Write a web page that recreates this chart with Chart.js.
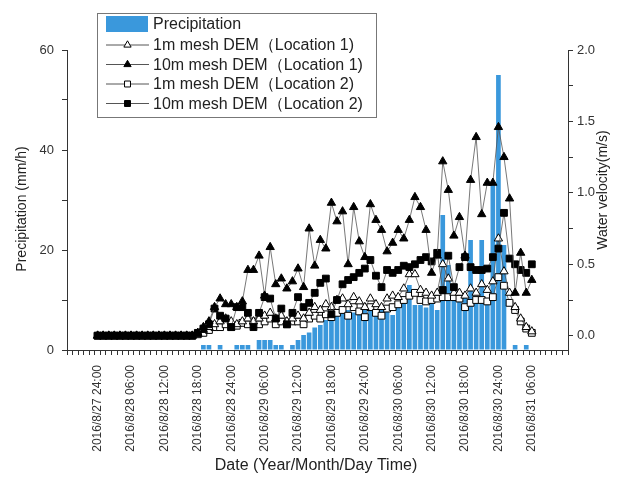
<!DOCTYPE html>
<html>
<head>
<meta charset="utf-8">
<script src="https://cdn.jsdelivr.net/npm/chart.js@4.4.1/dist/chart.umd.min.js"></script>
<style>
  html, body { margin: 0; padding: 0; background: #fff; }
  #wrap { width: 626px; height: 477px; }
</style>
</head>
<body>
<div id="wrap"><canvas id="velocityChart" width="626" height="477"></canvas></div>
<script>
// hourly values, hour 0 = 2016/8/27 24:00, hour 78 = 2016/8/31 06:00
const tickLabels = [
    '2016/8/27 24:00', '2016/8/28 06:00', '2016/8/28 12:00', '2016/8/28 18:00',
    '2016/8/28 24:00', '2016/8/29 06:00', '2016/8/29 12:00', '2016/8/29 18:00',
    '2016/8/29 24:00', '2016/8/30 06:00', '2016/8/30 12:00', '2016/8/30 18:00',
    '2016/8/30 24:00', '2016/8/31 06:00'
];

const precipitation = [
    0, 0, 0, 0, 0, 0,
    0, 0, 0, 0, 0, 0,
    0, 0, 0, 0, 0, 0,
    0, 1, 1, 0, 1, 0,
    0, 1, 1, 1, 0, 2,
    2, 2, 1, 1, 0, 1,
    2, 3, 3.5, 4.5, 5, 6,
    7, 8, 8, 8, 7.5, 8,
    8, 8, 7, 8, 8.5, 7,
    9, 10, 13, 9, 9, 8.5,
    10, 8, 27, 17, 12, 10,
    11, 22, 10, 22, 10, 33,
    55, 21, 0, 1, 0, 1,
    0
];

const mesh1Loc1 = [
    0, 0, 0, 0, 0, 0,
    0, 0, 0, 0, 0, 0,
    0, 0, 0, 0, 0, 0,
    0.01, 0.04, 0.06, 0.08, 0.1, 0.12,
    0.1, 0.08, 0.1, 0.12, 0.1, 0.12,
    0.14, 0.16, 0.12, 0.14, 0.1, 0.12,
    0.14, 0.12, 0.16, 0.2, 0.18, 0.22,
    0.2, 0.25, 0.26, 0.22, 0.27, 0.24,
    0.2, 0.26, 0.22, 0.2, 0.26, 0.28,
    0.27, 0.33, 0.43, 0.43, 0.32, 0.3,
    0.28, 0.3, 0.5, 0.4, 0.3, 0.3,
    0.28, 0.33, 0.3, 0.36, 0.32, 0.38,
    0.68, 0.45, 0.3, 0.2, 0.12, 0.06,
    0.03
];

const mesh10Loc1 = [
    0, 0, 0, 0, 0, 0,
    0, 0, 0, 0, 0, 0,
    0, 0, 0, 0, 0, 0,
    0.02, 0.06, 0.1, 0.2, 0.26, 0.22,
    0.22, 0.2, 0.24, 0.46, 0.46, 0.56,
    0.28, 0.62, 0.36, 0.4, 0.33, 0.38,
    0.47, 0.34, 0.75, 0.49, 0.67, 0.61,
    0.93, 0.8, 0.87, 0.5, 0.9, 0.66,
    0.55, 0.92, 0.81, 0.74, 0.59, 0.65,
    0.74, 0.68, 0.81, 0.97, 0.9, 0.74,
    0.44, 0.56, 1.22, 1.02, 0.7, 0.83,
    0.56, 1.09, 1.39, 0.85, 1.07, 1.07,
    1.46, 1.25, 0.96, 0.3, 0.58, 0.3,
    0.39
];

const mesh1Loc2 = [
    0, 0, 0, 0, 0, 0,
    0, 0, 0, 0, 0, 0,
    0, 0, 0, 0, 0, 0,
    0.01, 0.02, 0.04, 0.06, 0.06, 0.08,
    0.06, 0.07, 0.09, 0.08, 0.1, 0.08,
    0.1, 0.12, 0.08, 0.1, 0.08, 0.1,
    0.1, 0.08, 0.12, 0.14, 0.12, 0.15,
    0.13, 0.16, 0.18, 0.14, 0.2, 0.17,
    0.13, 0.2, 0.16, 0.14, 0.19, 0.2,
    0.22, 0.25, 0.28, 0.3, 0.25, 0.24,
    0.25, 0.26, 0.27, 0.27, 0.27, 0.26,
    0.2, 0.23, 0.25, 0.25, 0.24, 0.27,
    0.41, 0.35, 0.23, 0.18, 0.1, 0.05,
    0.02
];

const mesh10Loc2 = [
    0, 0, 0, 0, 0, 0,
    0, 0, 0, 0, 0, 0,
    0, 0, 0, 0, 0, 0,
    0.02, 0.05, 0.08, 0.19, 0.14, 0.12,
    0.06, 0.2, 0.2, 0.16, 0.06, 0.16,
    0.27, 0.26, 0.12, 0.19, 0.08, 0.16,
    0.27, 0.2, 0.23, 0.3, 0.37, 0.4,
    0.15, 0.25, 0.36, 0.39, 0.41, 0.44,
    0.47, 0.53, 0.42, 0.34, 0.46, 0.44,
    0.46, 0.49, 0.48, 0.5, 0.53, 0.55,
    0.52, 0.58, 0.32, 0.56, 0.34, 0.48,
    0.55, 0.48, 0.46, 0.46, 0.47, 0.55,
    0.61, 0.86, 0.54, 0.5, 0.46, 0.44,
    0.5
];

const hours = precipitation.map((_, i) => i);

// small hourly tick marks run past both ends of the data
const axisHours = [];
for (let h = -5; h <= 84; h++) axisHours.push(h);

const FONT = '"Liberation Sans", Arial, sans-serif';
const INK = '#222';
const BAR_BLUE = '#3a98dc';

function lineSeries(label, data, style, fill, order) {
    return {
        type: 'line',
        label: label,
        data: data,
        yAxisID: 'yV',
        order: order,
        borderColor: '#555',
        borderWidth: 0.8,
        pointStyle: style,
        pointRadius: 4.8,
        pointBorderWidth: 1,
        pointBorderColor: '#000',
        pointBackgroundColor: fill,
        tension: 0
    };
}

function drawMarker(ctx, style, x, y, r, fill) {
    ctx.beginPath();
    if (style === 'triangle') {
        for (let k = 0; k < 3; k++) {
            const a = k * 2 * Math.PI / 3;
            const px = x + Math.sin(a) * r, py = y - Math.cos(a) * r;
            k === 0 ? ctx.moveTo(px, py) : ctx.lineTo(px, py);
        }
        ctx.closePath();
    } else {
        const s = r * Math.SQRT1_2;
        ctx.rect(x - s, y - s, 2 * s, 2 * s);
    }
    ctx.fillStyle = fill;
    ctx.fill();
    ctx.strokeStyle = '#000';
    ctx.lineWidth = 1;
    ctx.stroke();
}

// boxed legend plus the three axis titles
const annotations = {
    id: 'annotations',
    afterDraw(chart) {
        const ctx = chart.ctx;
        ctx.save();

        ctx.strokeStyle = '#777';
        ctx.lineWidth = 1;
        ctx.strokeRect(97.5, 13.5, 279, 104);

        ctx.font = '16px ' + FONT;
        ctx.textBaseline = 'middle';
        ctx.textAlign = 'left';
        const rowY = [24, 45, 64.5, 84, 103.5];
        chart.data.datasets.forEach((ds, i) => {
            const y = rowY[i];
            if (ds.type === 'bar' || !ds.type) {
                ctx.fillStyle = BAR_BLUE;
                ctx.fillRect(106, 16, 42, 16);
            } else {
                ctx.strokeStyle = '#555';
                ctx.lineWidth = 1;
                ctx.beginPath();
                ctx.moveTo(106, y);
                ctx.lineTo(149, y);
                ctx.stroke();
                drawMarker(ctx, ds.pointStyle, 127.5, y, 4.2, ds.pointBackgroundColor);
            }
            ctx.fillStyle = INK;
            ctx.fillText(ds.label, 153, y + 1);
        });

        ctx.fillStyle = INK;
        ctx.textAlign = 'center';
        ctx.font = '16px ' + FONT;
        ctx.fillText('Date (Year/Month/Day Time)', 316, 466);

        ctx.font = '14px ' + FONT;
        ctx.translate(22, 209);
        ctx.rotate(-Math.PI / 2);
        ctx.fillText('Precipitation (mm/h)', 0, 0);
        ctx.setTransform(1, 0, 0, 1, 0, 0);
        ctx.translate(603, 190);
        ctx.rotate(-Math.PI / 2);
        ctx.fillText('Water velocity(m/s)', 0, 0);

        ctx.restore();
    }
};

new Chart(document.getElementById('velocityChart'), {
    type: 'bar',
    data: {
        labels: hours,
        datasets: [
            {
                type: 'bar',
                label: 'Precipitation',
                data: precipitation,
                yAxisID: 'yP',
                order: 5,
                backgroundColor: BAR_BLUE,
                borderWidth: 0,
                categoryPercentage: 1,
                barPercentage: 0.84
            },
            lineSeries('1m mesh DEM（Location 1)', mesh1Loc1, 'triangle', '#fff', 3),
            lineSeries('10m mesh DEM（Location 1)', mesh10Loc1, 'triangle', '#000', 1),
            lineSeries('1m mesh DEM（Location 2)', mesh1Loc2, 'rect', '#fff', 4),
            lineSeries('10m mesh DEM（Location 2)', mesh10Loc2, 'rect', '#000', 2)
        ]
    },
    options: {
        responsive: false,
        animation: false,
        events: [],
        layout: { padding: { top: 50, left: 0, right: 0, bottom: 0 } },
        scales: {
            x: {
                type: 'linear',
                min: -5.5,
                max: 84.5,
                offset: false,
                afterBuildTicks: s => { s.ticks = axisHours.map(v => ({ value: v })); },
                afterFit: s => { s.height = 127; },
                ticks: {
                    autoSkip: false,
                    minRotation: 90,
                    maxRotation: 90,
                    padding: 10,
                    color: '#333',
                    font: { size: 12, family: FONT },
                    callback: v => (v >= 0 && v <= 78 && v % 6 === 0) ? tickLabels[v / 6] : ''
                },
                grid: { drawOnChartArea: false, tickLength: 5, color: '#333' },
                border: { color: '#333', width: 1 }
            },
            yP: {
                position: 'left',
                min: 0,
                max: 60,
                afterBuildTicks: s => { s.ticks = [0, 10, 20, 30, 40, 50, 60].map(v => ({ value: v })); },
                afterFit: s => { s.width = 67; },
                ticks: {
                    padding: 8,
                    color: '#333',
                    font: { size: 13, family: FONT },
                    callback: v => v % 20 === 0 ? v : ''
                },
                grid: { drawOnChartArea: false, tickLength: 5, color: '#333' },
                border: { color: '#333', width: 1 }
            },
            yV: {
                position: 'right',
                min: -0.1,
                max: 2.0,
                afterBuildTicks: s => { s.ticks = [0, 0.25, 0.5, 0.75, 1, 1.25, 1.5, 1.75, 2].map(v => ({ value: v })); },
                afterFit: s => { s.width = 58; },
                ticks: {
                    padding: 4,
                    color: '#333',
                    font: { size: 13, family: FONT },
                    callback: v => (v * 2) % 1 === 0 ? v.toFixed(1) : ''
                },
                grid: { drawOnChartArea: false, tickLength: 5, color: '#333' },
                border: { color: '#333', width: 1 }
            }
        },
        plugins: {
            legend: { display: false },
            tooltip: { enabled: false }
        }
    },
    plugins: [annotations]
});
</script>
</body>
</html>
